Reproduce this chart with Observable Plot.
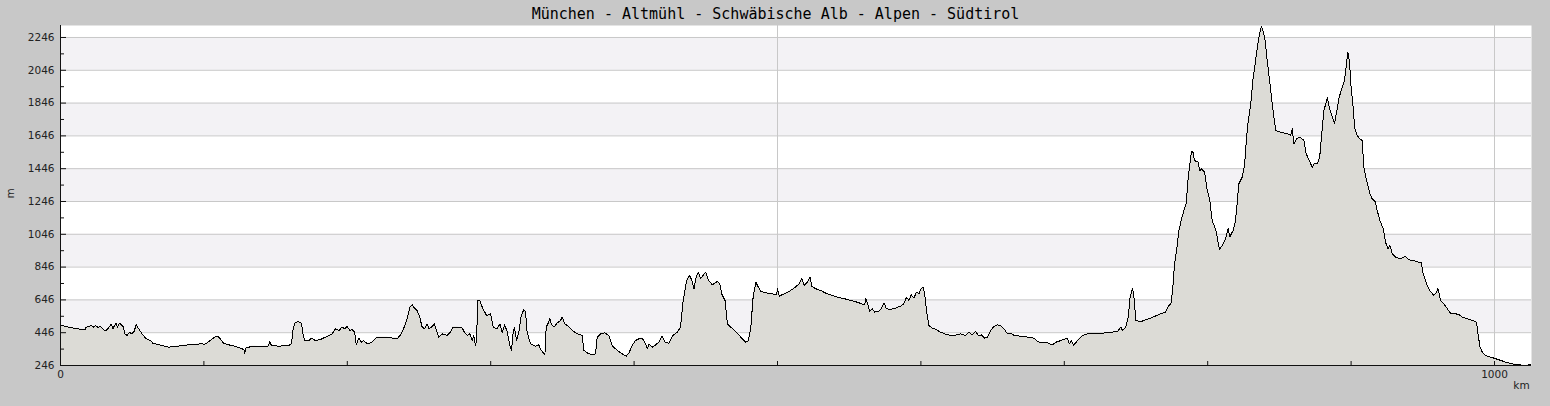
<!DOCTYPE html>
<html>
<head>
<meta charset="utf-8">
<script src="https://cdn.jsdelivr.net/npm/d3@7"></script>
<script src="https://cdn.jsdelivr.net/npm/@observablehq/plot@0.6"></script>
<style>
  html, body { margin: 0; padding: 0; background: #c8c8c8; }
</style>
</head>
<body>
<div id="chart"></div>
<script>
const title = "München - Altmühl - Schwäbische Alb - Alpen - Südtirol";
const xUnit = "km";
const yUnit = "m";

// distance along the route (km)
const kmValues = [
  0,1.6,5.8,11.6,17,17.9,19.8,21.6,23.3,24.4,26.3,27.9,29.1,30.9,32.6,34.4,35.3,36.5,37.7,38.8,39.8,41.1,42.3,43.7,44.9,46.5,48.1,49.5,51.4,52.8,54.2,55.8,57.4,59.3,61.1,62.8,64.4,66.2,70.9,75.5,80.2,84.8,89.5,94.1,98.8,99.9,102.3,105.3,107.6,109.7,111.1,113.4,117.4,122.1,125.5,127.9,128.5,129.3,133.7,138.3,144.8,146,147.1,152.3,159.2,161.1,162,163.4,165.7,168.1,169,170.4,173.2,175,177.8,
  181.3,184.8,187.1,189.4,191.8,194.1,196.4,198.3,199.9,201.8,203.4,205.1,206.2,208.1,209.7,211.5,213.9,217.3,220.8,224.3,227.8,231.3,235.2,237.1,239.4,241.7,243.6,245.2,246.8,248.7,250.5,252.2,253.8,255.6,257,259.1,260.8,262.2,263.8,266.1,269.6,272,273.8,276.6,280.1,281.7,283.6,285.4,287.1,288.2,289.4,290.1,291,292.4,294.1,295.2,297.1,299.9,301.7,304.5,306.4,308,309.7,311.5,313.4,314.5,315.7,316.6,318,319.6,321.3,323.1,324.3,325.4,327.8,331.3,333.6,334.7,336.6,337.8,338.7,339.9,341.3,342.2,344.1,346.4,348.7,349.9,351.5,353.4,355.7,
  356.9,360.4,363.8,365,367.3,370.8,373.1,374.3,376.6,379.6,382.4,384.7,388.2,391.7,394.5,396.4,398.7,401,403.4,405.7,408,409.2,410.4,412.7,415,417.3,419.6,421.5,424.3,427.1,430.1,432.4,434.1,436,437.1,438.8,440.2,441.8,442.9,444.8,446.4,448,449.9,451.8,454.6,456.4,458.1,459.7,461.1,463.4,465.1,467.4,470.9,474.4,477.9,479.7,481.4,483,484.9,486,488.4,491.9,496.5,499.3,500,501.2,504.6,508.1,511.6,515.1,517,518.6,520.9,522.8,523.9,526.7,530.2,
  534.6,541.6,548.6,555.6,560.7,561.6,563,564.4,566,567.7,570.7,572.3,574.2,576,578.8,582.3,585.8,588.1,590,591.6,593.2,595.1,596.9,598.6,600.2,601.6,602.6,604,605.6,607.9,610.3,613.8,618.4,623.1,627.7,631.2,633.5,635.9,638.2,640.5,642.1,644.5,646.3,648.6,651,653.3,655.6,658,660.3,662.2,665,669.6,674.3,678.9,681.3,684.8,688.3,691.7,694.1,697.6,702.2,703.4,705,706.4,709.2,712.7,716.2,720.8,726.6,732.4,737.1,739.4,740.6,742.9,744.6,745.9,747.6,748.7,749.9,753.4,
  760.1,767.1,770.6,772.9,774.5,775.7,776.9,778.3,779.9,781.5,783.4,785,786.2,787.6,788.7,789.7,790.8,793.2,794.6,795.7,797.8,799.7,801.5,803.1,805.4,806.6,808.2,810.1,812.4,814.3,815.4,817.7,819.4,820.5,821.7,824,825.7,827.1,828.3,829.9,831.5,833.4,835,836.4,837.4,838.5,839.9,841.5,843.4,845,846.2,847.4,850.8,855.5,857.8,859,860.1,862,864.3,867.1,868.7,870.6,872.9,874.1,876.4,878.1,879.5,881.1,882.3,883.4,885.3,
  888.4,890.3,891.4,893.8,895.4,896.8,897.7,898.9,900,901.4,902.6,904.2,906.1,907.7,908.9,910.8,913.1,914.7,917,918.2,920.1,922.4,924,925.7,927.1,928.7,931,934.5,938,940.3,943.8,947.3,948.9,950.3,952.6,954.9,957.7,959.6,960.5,962.4,964.7,967.1,969.4,972.9,975.2,977.5,979.9,983.4,987.5,988.5,989.9,991.5,993.9,997.4,1000.9,1004.4,1007.9,1012.5,1017.2,1021.9,1025.4
];

// elevation (m)
const elevation = [
  486,488,480,470,464,480,484,490,478,490,478,486,474,456,466,486,500,470,490,502,480,504,494,484,439,429,449,439,453,498,474,453,433,413,405,398,382,378,368,358,362,368,372,374,380,374,384,405,419,425,413,384,372,362,352,343,319,352,364,362,364,392,368,364,368,378,459,504,514,504,439,398,398,413,398,
  405,419,429,439,470,459,480,470,484,459,466,449,372,413,388,398,378,388,419,419,419,413,413,433,474,531,602,616,596,582,541,480,470,500,470,484,500,459,419,439,429,449,480,480,474,449,429,439,398,429,368,398,642,642,602,582,551,561,480,470,500,449,494,453,368,338,449,480,398,449,551,586,572,449,378,364,372,347,323,311,480,500,531,500,480,506,520,541,500,490,470,
  459,439,429,338,323,311,317,419,439,445,429,368,338,317,303,323,368,398,409,413,378,347,378,358,372,388,425,388,382,429,449,480,633,734,775,795,765,714,775,815,775,795,815,765,738,750,758,744,683,642,500,480,453,419,388,398,480,663,754,734,697,689,683,677,714,669,683,697,718,744,775,734,754,785,730,714,703,
  683,663,649,632,616,653,616,576,592,572,576,592,628,592,588,596,608,622,663,642,677,657,693,683,714,724,683,572,490,474,466,449,433,429,439,429,449,433,453,425,433,413,419,459,484,494,490,470,439,445,429,425,419,413,392,384,384,372,388,398,413,378,398,368,398,429,439,439,443,449,453,480,459,480,541,663,718,653,520,514,
  534,561,571,612,626,724,866,947,1069,1130,1191,1232,1374,1476,1551,1547,1496,1486,1435,1445,1425,1313,1252,1130,1080,1029,951,978,1019,1080,1029,1069,1130,1232,1354,1394,1466,1638,1740,1832,1984,2106,2208,2279,2312,2289,2238,2106,1964,1842,1760,1679,1669,1659,1649,1689,1598,1628,1638,1618,1537,1500,1455,1476,1476,1516,1659,1801,1842,1878,1801,
  1720,1811,1872,1943,1984,2086,2157,2096,1943,1821,1689,1649,1628,1618,1455,1374,1293,1262,1242,1191,1130,1080,998,958,978,927,907,897,911,890,886,876,876,805,744,703,673,693,717,642,622,592,565,561,557,541,534,525,510,439,358,327,307,297,287,277,266,256,250,246,252
];

const yTicks = [246, 446, 646, 846, 1046, 1246, 1446, 1646, 1846, 2046, 2246];
const yMinorTicks = [346, 546, 746, 946, 1146, 1346, 1546, 1746, 1946, 2146];
const bandStarts = [446, 846, 1246, 1646, 2046];
const xTicks = [0, 100, 200, 300, 400, 500, 600, 700, 800, 900, 1000];
const xLabels = [0, 1000];
const xGrid = [500, 1000];

const data = kmValues.map((k, i) => ({km: k, m: elevation[i]}));

const W = 1550, H = 406;
const ML = 60, MR = 19, MT = 25, MB = 41;
const plotW = W - ML - MR, plotH = H - MT - MB;
const yMin = 246, yMax = 2319, xMax = 1025.8;
const labelFont = "DejaVu Sans, sans-serif";

const chart = Plot.plot({
  width: W,
  height: H,
  marginLeft: ML,
  marginRight: MR,
  marginTop: MT,
  marginBottom: MB,
  x: {domain: [0, xMax], axis: null},
  y: {domain: [yMin, yMax], axis: null},
  style: {background: "#c8c8c8", overflow: "visible"},
  marks: [
    Plot.frame({fill: "white", stroke: null}),
    Plot.rectY(bandStarts, {y1: d => d, y2: d => d + 200, fill: "#f3f2f5"}),
    Plot.ruleY(yTicks.slice(1), {y: d => d, stroke: "#c8c8c8", strokeWidth: 1}),
    Plot.ruleX(xGrid, {x: d => d, stroke: "#c8c8c8", strokeWidth: 1}),
    Plot.areaY(data, {x: "km", y1: yMin, y2: "m", fill: "#dcdbd6"}),
    Plot.lineY(data, {x: "km", y: "m", stroke: "black", strokeWidth: 1, shapeRendering: "crispEdges"}),
    // axis lines
    Plot.ruleY([yMin], {stroke: "#111", strokeWidth: 1}),
    Plot.ruleX([0], {stroke: "#111", strokeWidth: 1}),
    // inward ticks
    Plot.tickY(yTicks, {y: d => d, stroke: "#111", insetRight: plotW - 6}),
    Plot.tickY(yMinorTicks, {y: d => d, stroke: "#111", insetRight: plotW - 4}),
    Plot.tickX(xTicks, {x: d => d, stroke: "#111", insetTop: plotH - 4}),
    // tick labels
    Plot.text(yTicks, {y: d => d, text: d => String(d), frameAnchor: "left", dx: -6, textAnchor: "end",
      lineAnchor: "middle", fontFamily: labelFont, fontSize: 10.5, fill: "#222"}),
    Plot.text(xLabels, {x: d => d, text: d => String(d), frameAnchor: "bottom", dy: 9.5, lineAnchor: "middle",
      fontFamily: labelFont, fontSize: 10.5, fill: "#222"}),
    Plot.text([xUnit], {text: d => d, frameAnchor: "bottom-right", dx: -10, dy: 20.5, textAnchor: "middle",
      lineAnchor: "middle", fontFamily: labelFont, fontSize: 10.5, fill: "#222"}),
    Plot.text([yUnit], {text: d => d, frameAnchor: "left", dx: -50, dy: -2, rotate: -90, textAnchor: "middle",
      lineAnchor: "middle", fontFamily: labelFont, fontSize: 10.5, fill: "#222"}),
    Plot.text([title], {text: d => d, frameAnchor: "top", dx: -20.5, dy: -11, lineAnchor: "middle",
      fontFamily: "DejaVu Sans Mono, monospace", fontSize: 15, fill: "#000"})
  ]
});

document.getElementById("chart").appendChild(chart);
</script>
</body>
</html>
